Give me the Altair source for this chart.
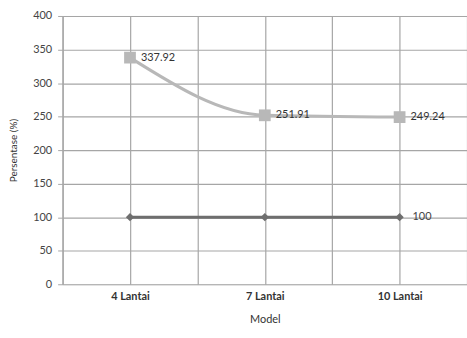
import altair as alt
import pandas as pd

categories = ["4 Lantai", "7 Lantai", "10 Lantai"]
positions = [1, 2, 3]
series_a = [337.92, 251.91, 249.24]
series_b = [100, 100, 100]
labels_a = ["337.92", "251.91", "249.24"]
labels_b = ["", "", "100"]

df_a = pd.DataFrame({"pos": positions, "cat": categories, "val": series_a, "lab": labels_a})
df_b = pd.DataFrame({"pos": positions, "cat": categories, "val": series_b, "lab": labels_b})

font = "Lato"
x_enc = alt.X(
    "pos:Q",
    scale=alt.Scale(domain=[0.5, 3.5], nice=False, zero=False),
    axis=alt.Axis(
        values=[0.5, 1, 1.5, 2, 2.5, 3, 3.5],
        labelExpr="datum.value == 1 ? '4 Lantai' : datum.value == 2 ? '7 Lantai' : datum.value == 3 ? '10 Lantai' : ''",
        labelOverlap=False,
        title="Model",
        grid=True,
        gridColor="#a6a6a6",
        gridWidth=1.2,
        ticks=False,
        domain=False,
        labelFont=font,
        labelFontWeight="bold",
        labelFontSize=11,
        labelColor="#333333",
        labelPadding=6,
        titleFont=font,
        titleFontSize=11,
        titleFontWeight="normal",
        titleColor="#333333",
        titlePadding=12,
    ),
)
y_enc = alt.Y(
    "val:Q",
    scale=alt.Scale(domain=[0, 400], nice=False),
    axis=alt.Axis(
        values=[0, 50, 100, 150, 200, 250, 300, 350, 400],
        labelOverlap=False,
        title="Persentase (%)",
        grid=True,
        gridColor="#a6a6a6",
        gridWidth=1.2,
        ticks=True,
        tickSize=5,
        tickColor="#a6a6a6",
        domainColor="#a6a6a6",
        domainWidth=1.2,
        labelFont=font,
        labelFontSize=11,
        labelColor="#444444",
        labelPadding=6,
        titleFont=font,
        titleFontSize=10,
        titleFontWeight="normal",
        titleColor="#333333",
        titlePadding=14,
    ),
)

base_b = alt.Chart(df_b).encode(x=x_enc, y=y_enc)
base_a = alt.Chart(df_a).encode(x=x_enc, y=y_enc)

line_b = base_b.mark_line(color="#6e6e6e", strokeWidth=3)
pts_b = base_b.mark_point(shape="diamond", filled=True, fill="#6e6e6e", size=70, opacity=1)
txt_b = base_b.mark_text(align="left", dx=13, font=font, fontSize=11, fill="#444444").encode(text="lab:N")

line_a = base_a.mark_line(color="#b8b8b8", strokeWidth=3, interpolate="monotone")
pts_a = base_a.mark_point(shape="square", filled=True, fill="#b8b8b8", size=140, opacity=1)
txt_a = base_a.mark_text(align="left", dx=11, font=font, fontSize=11, fill="#333333").encode(text="lab:N")

chart = (
    alt.layer(line_b, pts_b, txt_b, line_a, pts_a, txt_a)
    .properties(
        width=407,
        height=270,
        autosize=alt.AutoSizeParams(type="none"),
        padding={"left": 63, "top": 15, "right": 0, "bottom": 53},
    )
    .configure_view(stroke=None)
    .configure(background="white")
)

chart.save("out.html", embed_options={"renderer": "svg", "actions": False})
